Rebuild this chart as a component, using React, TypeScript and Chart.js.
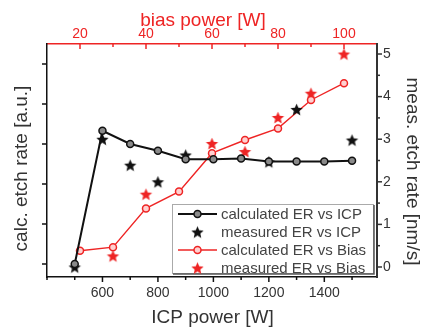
import React, { useEffect, useRef } from 'react';
import { Chart, registerables } from 'chart.js';
Chart.register(...registerables);

// ---- data ----
const icpPower = [500, 600, 700, 800, 900, 1000, 1100, 1200, 1300, 1400, 1500];
const calcErIcp = [0, 3.33, 3.0, 2.83, 2.62, 2.62, 2.64, 2.56, 2.56, 2.56, 2.58];
const measIcpPower = [500, 600, 700, 800, 900, 1200, 1300, 1500];
const measErIcp = [0.0, 3.0, 2.39, 2.0, 2.63, 2.47, 3.7, 2.98];
const biasPower = [20, 30, 40, 50, 60, 70, 80, 90, 100];
const calcErBias = [0.33, 0.42, 1.39, 1.81, 2.77, 3.1, 3.39, 4.1, 4.52];
const measBiasPower = [30, 40, 60, 70, 80, 90, 100];
const measErBias = [0.26, 1.71, 2.9, 2.71, 3.51, 4.08, 5.0];

// ---- ticks ----
const icpTicks = [400, 500, 600, 700, 800, 900, 1000, 1100, 1200, 1300, 1400, 1500];
const icpTickLabels = [600, 800, 1000, 1200, 1400];
const biasTicks = [20, 30, 40, 50, 60, 70, 80, 90, 100];
const biasTickLabels = [20, 40, 60, 80, 100];
const measTicks = [0, 0.5, 1, 1.5, 2, 2.5, 3, 3.5, 4, 4.5, 5];
const measTickLabels = [0, 1, 2, 3, 4, 5];
const calcTicks = [0, 1, 2, 3, 4, 5];

const legendLabels = [
  'calculated ER vs ICP',
  'measured ER vs ICP',
  'calculated ER vs Bias',
  'measured ER vs Bias',
];
const axisTitles = {
  bottom: 'ICP power [W]',
  top: 'bias power [W]',
  left: 'calc. etch rate [a.u.]',
  right: 'meas. etch rate [nm/s]',
};

const RED = '#ee2424';
const BLACK = '#111111';
const TEXT = '#333333';
const FONT = "'Liberation Sans', Arial, sans-serif";

function makeStar(color: string, r: number) {
  const size = Math.ceil(r * 2 + 2);
  const c = document.createElement('canvas');
  c.width = size;
  c.height = size;
  const g = c.getContext('2d') as CanvasRenderingContext2D;
  g.fillStyle = color;
  g.beginPath();
  const cx = size / 2;
  const cy = size / 2 + r * 0.1;
  for (let i = 0; i < 10; i++) {
    const rad = i % 2 === 0 ? r : r * 0.45;
    const a = -Math.PI / 2 + (i * Math.PI) / 5;
    g.lineTo(cx + rad * Math.cos(a), cy + rad * Math.sin(a));
  }
  g.closePath();
  g.fill();
  return c;
}

const setTicks = (vals: number[]) => (s: any) => {
  s.ticks = vals.map((v) => ({ value: v }));
};

const tickMarkPlugin = {
  id: 'tickMarks',
  afterDraw(chart: any) {
    const ctx = chart.ctx;
    const defs = [
      { id: 'x', major: icpTickLabels, color: BLACK, dir: 1 },
      { id: 'x2', major: biasTickLabels, color: RED, dir: 1 },
      { id: 'y', major: calcTicks, color: BLACK, dir: -1 },
      { id: 'y2', major: measTickLabels, color: '#333', dir: 1 },
    ];
    ctx.save();
    defs.forEach((d) => {
      const s = chart.scales[d.id];
      if (!s) return;
      ctx.strokeStyle = d.color;
      ctx.lineWidth = 1.5;
      (s.ticks || []).forEach((t: any) => {
        const isMajor = d.major.some((m) => Math.abs(m - t.value) < 1e-6);
        const len = isMajor ? 5 : 3;
        const p = s.getPixelForValue(t.value);
        ctx.beginPath();
        if (s.isHorizontal()) {
          const y0 = s.position === 'bottom' ? s.top : s.bottom;
          ctx.moveTo(p, y0);
          ctx.lineTo(p, y0 + d.dir * len);
        } else {
          const x0 = s.position === 'left' ? s.right : s.left;
          ctx.moveTo(x0, p);
          ctx.lineTo(x0 + d.dir * len, p);
        }
        ctx.stroke();
      });
    });
    ctx.restore();
  },
};

const titlePlugin = {
  id: 'axisTitles',
  afterDraw(chart: any) {
    const ctx = chart.ctx;
    const a = chart.chartArea;
    ctx.save();
    ctx.font = `19px ${FONT}`;
    ctx.textAlign = 'center';
    ctx.textBaseline = 'middle';
    // bottom
    ctx.fillStyle = TEXT;
    ctx.fillText(axisTitles.bottom, (a.left + a.right) / 2 + 0.5, a.bottom + 41);
    // top
    ctx.fillStyle = RED;
    ctx.fillText(axisTitles.top, (a.left + a.right) / 2 - 9, a.top - 23);
    // left
    ctx.fillStyle = TEXT;
    ctx.save();
    ctx.translate(a.left - 25, (a.top + a.bottom) / 2 + 8);
    ctx.rotate(-Math.PI / 2);
    ctx.fillText(axisTitles.left, 0, 0);
    ctx.restore();
    // right
    ctx.save();
    ctx.translate(a.right + 35, (a.top + a.bottom) / 2 + 11);
    ctx.rotate(Math.PI / 2);
    ctx.fillText(axisTitles.right, 0, 0);
    ctx.restore();
    ctx.restore();
  },
};

const legendPlugin = {
  id: 'customLegend',
  afterDraw(chart: any) {
    const ctx = chart.ctx;
    const a = chart.chartArea;
    const w = 201;
    const h = 69;
    const left = a.right - w - 4;
    const top = a.bottom - h - 4;
    ctx.save();
    ctx.fillStyle = '#ffffff';
    ctx.fillRect(left, top, w, h);
    ctx.strokeStyle = '#aaaaaa';
    ctx.lineWidth = 1;
    ctx.strokeRect(left + 0.5, top + 0.5, w, h);
    ctx.strokeStyle = '#555555';
    ctx.lineWidth = 1.5;
    ctx.beginPath();
    ctx.moveTo(left + 1, top + h + 1);
    ctx.lineTo(left + w + 1, top + h + 1);
    ctx.lineTo(left + w + 1, top + 1);
    ctx.stroke();

    const rowH = 18;
    chart.data.datasets.forEach((ds: any, i: number) => {
      const cy = top + 10 + i * rowH;
      const x0 = left + 6;
      const x1 = left + 45;
      const cx = (x0 + x1) / 2;
      if (ds.showLine) {
        ctx.strokeStyle = ds.borderColor;
        ctx.lineWidth = ds.borderWidth;
        ctx.beginPath();
        ctx.moveTo(x0, cy);
        ctx.lineTo(x1, cy);
        ctx.stroke();
        ctx.beginPath();
        ctx.arc(cx, cy, ds.pointRadius, 0, Math.PI * 2);
        ctx.fillStyle = ds.pointBackgroundColor;
        ctx.fill();
        ctx.lineWidth = ds.pointBorderWidth;
        ctx.strokeStyle = ds.pointBorderColor;
        ctx.stroke();
      } else {
        const img = ds.pointStyle;
        ctx.drawImage(img, cx - img.width / 2, cy - img.height / 2);
      }
      ctx.fillStyle = '#444444';
      ctx.font = `15px ${FONT}`;
      ctx.textBaseline = 'middle';
      ctx.textAlign = 'left';
      ctx.fillText(legendLabels[i], left + 49, cy + 1);
    });
    ctx.restore();
  },
};

export default function App() {
  const ref = useRef<HTMLCanvasElement | null>(null);
  useEffect(() => {
    if (!ref.current) return;
    Chart.defaults.font.family = FONT;
    const starBlack = makeStar(BLACK, 6.5);
    const starRed = makeStar(RED, 6.5);
    const noTitle = { display: false };
    const chart = new Chart(ref.current, {
      type: 'scatter',
      data: {
        datasets: [
          {
            label: legendLabels[0],
            data: icpPower.map((x, i) => ({ x, y: calcErIcp[i] })),
            xAxisID: 'x',
            yAxisID: 'y',
            showLine: true,
            borderColor: BLACK,
            borderWidth: 2,
            pointRadius: 3.5,
            pointBackgroundColor: '#8a8a8a',
            pointBorderColor: BLACK,
            pointBorderWidth: 1.5,
            tension: 0,
          },
          {
            label: legendLabels[1],
            data: measIcpPower.map((x, i) => ({ x, y: measErIcp[i] })),
            xAxisID: 'x',
            yAxisID: 'y2',
            showLine: false,
            pointStyle: starBlack as any,
            pointRadius: 7,
          },
          {
            label: legendLabels[2],
            data: biasPower.map((x, i) => ({ x, y: calcErBias[i] })),
            xAxisID: 'x2',
            yAxisID: 'y',
            showLine: true,
            borderColor: RED,
            borderWidth: 1.4,
            pointRadius: 3.5,
            pointBackgroundColor: '#ffd0d0',
            pointBorderColor: RED,
            pointBorderWidth: 1.5,
            tension: 0,
          },
          {
            label: legendLabels[3],
            data: measBiasPower.map((x, i) => ({ x, y: measErBias[i] })),
            xAxisID: 'x2',
            yAxisID: 'y2',
            showLine: false,
            pointStyle: starRed as any,
            pointRadius: 7,
          },
        ] as any,
      },
      options: {
        responsive: false,
        animation: false,
        devicePixelRatio: 1,
        layout: { padding: 0 },
        plugins: { legend: { display: false }, tooltip: { enabled: false } },
        scales: {
          x: {
            type: 'linear',
            position: 'bottom',
            min: 400,
            max: 1590,
            grid: { display: false, drawTicks: false },
            border: { color: BLACK, width: 1.5 },
            afterBuildTicks: setTicks(icpTicks),
            ticks: {
              autoSkip: false,
              maxRotation: 0,
              minRotation: 0,
              padding: 8,
              color: TEXT,
              font: { size: 14 },
              callback: (v: any) => (icpTickLabels.includes(Number(v)) ? String(v) : ''),
            },
            title: noTitle,
            afterFit: (s: any) => {
              s.height = 52;
            },
          },
          x2: {
            type: 'linear',
            position: 'top',
            min: 10,
            max: 110,
            grid: { display: false, drawTicks: false },
            border: { color: RED, width: 1.5 },
            afterBuildTicks: setTicks(biasTicks),
            ticks: {
              autoSkip: false,
              maxRotation: 0,
              minRotation: 0,
              padding: 1,
              color: RED,
              font: { size: 14 },
              callback: (v: any) => (biasTickLabels.includes(Number(v)) ? String(v) : ''),
            },
            title: noTitle,
            afterFit: (s: any) => {
              s.height = 44;
            },
          },
          y: {
            type: 'linear',
            position: 'left',
            min: -0.325,
            max: 5.5,
            grid: { display: false, drawTicks: false },
            border: { color: BLACK, width: 1.5 },
            afterBuildTicks: setTicks(calcTicks),
            ticks: {
              autoSkip: false,
              callback: () => '',
            },
            title: noTitle,
            afterFit: (s: any) => {
              s.width = 47;
            },
          },
          y2: {
            type: 'linear',
            position: 'right',
            min: -0.235,
            max: 5.235,
            grid: { display: false, drawTicks: false },
            border: { color: '#333', width: 2 },
            afterBuildTicks: setTicks(measTicks),
            ticks: {
              autoSkip: false,
              padding: 6,
              color: TEXT,
              font: { size: 14 },
              callback: (v: any) => (measTickLabels.includes(Number(v)) ? String(v) : ''),
            },
            title: noTitle,
            afterFit: (s: any) => {
              s.width = 45;
            },
          },
        },
      } as any,
      plugins: [tickMarkPlugin, titlePlugin, legendPlugin],
    });
    return () => chart.destroy();
  }, []);
  return (
    <div style={{ position: 'fixed', left: 0, top: 0, width: 422, height: 329, background: '#fff' }}>
      <canvas ref={ref} width={422} height={329} style={{ width: 422, height: 329, display: 'block' }} />
    </div>
  );
}
